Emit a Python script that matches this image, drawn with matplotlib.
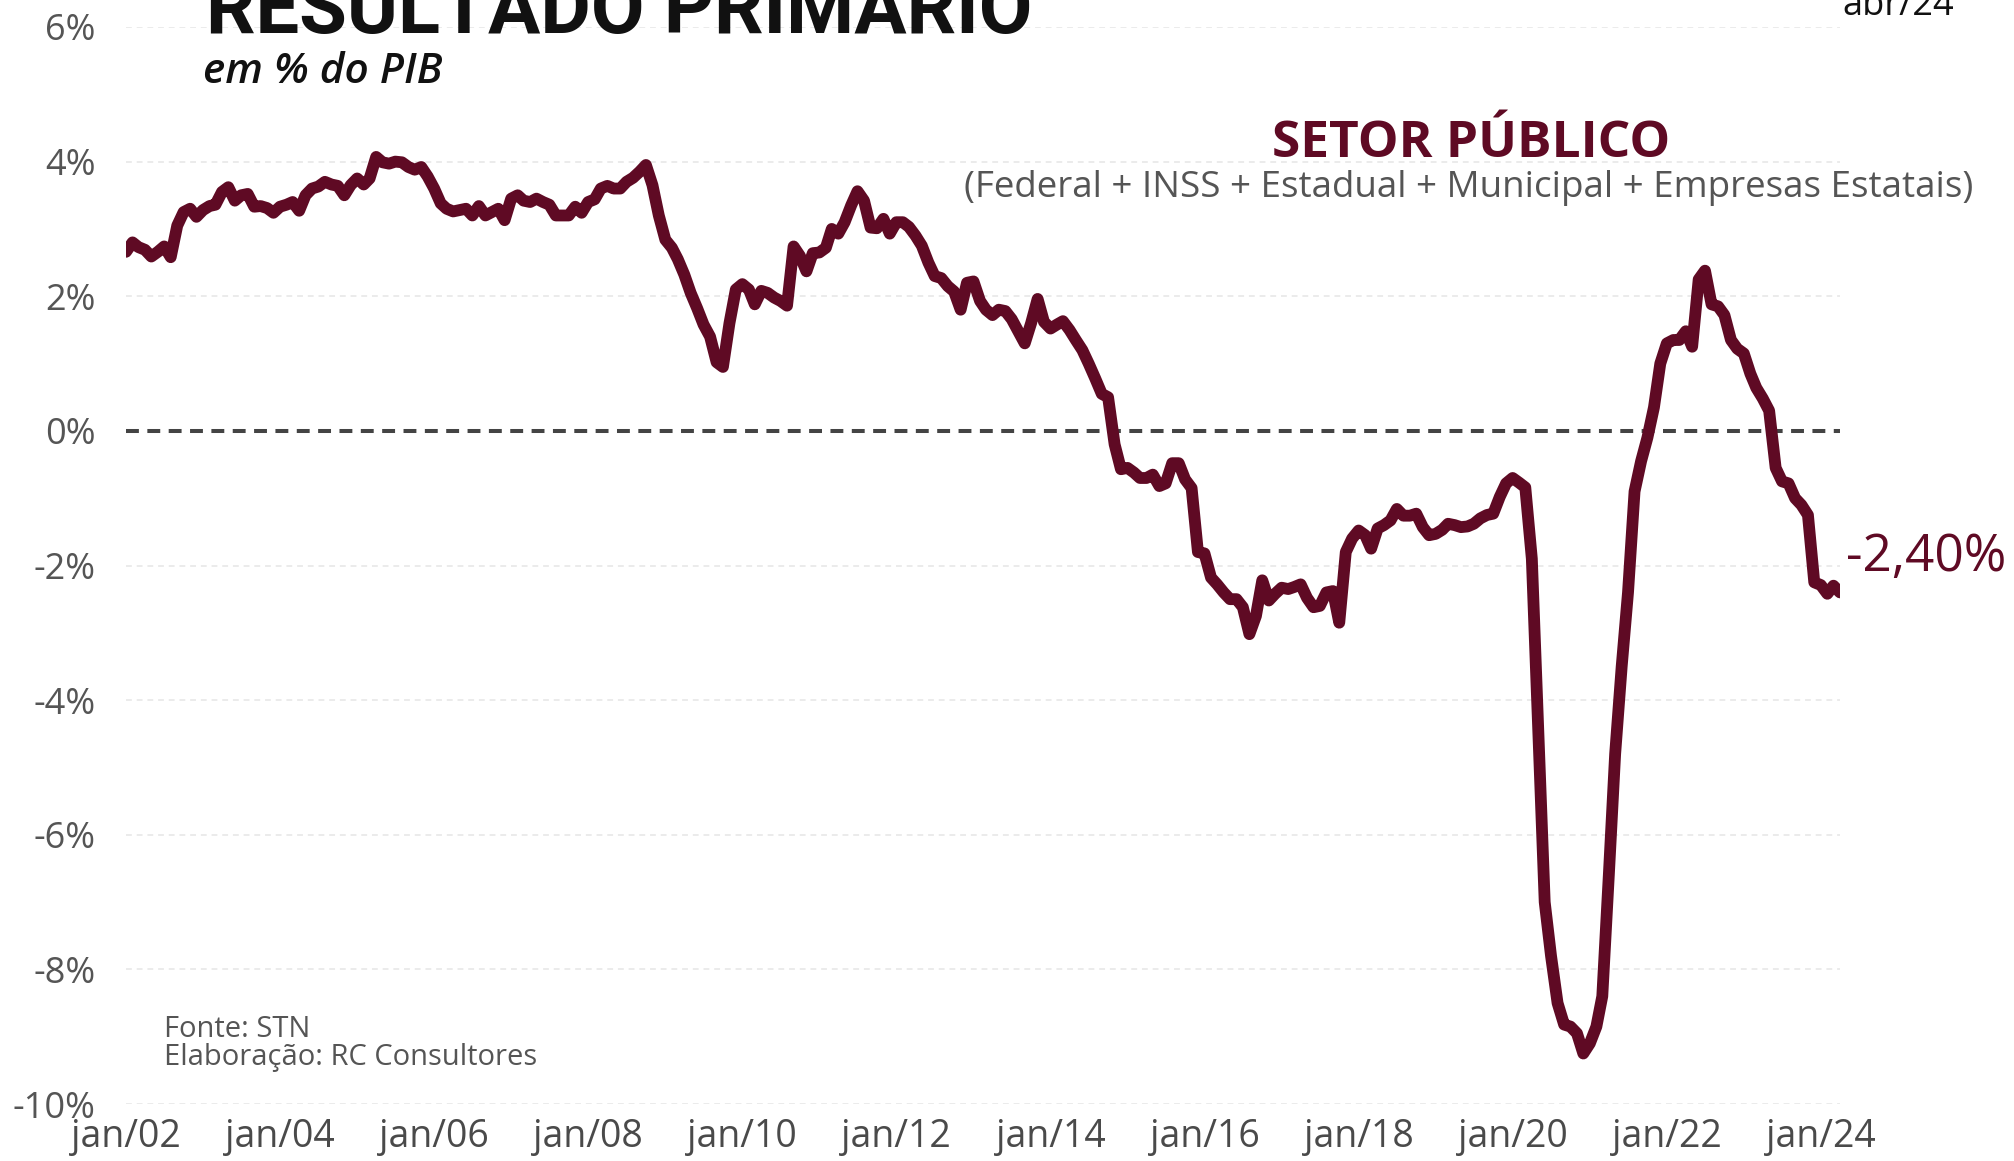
import numpy as np
import pandas as pd
import matplotlib
matplotlib.use('Agg')
import matplotlib.pyplot as plt
import matplotlib.dates as mdates

# resultado primario do setor publico, acumulado 12m, % do PIB (jan/02 - abr/24)
y2002 = [2.66, 2.80, 2.73, 2.69, 2.59, 2.66, 2.74, 2.58, 3.05, 3.25, 3.30, 3.18]
y2003 = [3.28, 3.34, 3.36, 3.55, 3.62, 3.42, 3.50, 3.52, 3.33, 3.34, 3.31, 3.24]
y2004 = [3.33, 3.36, 3.40, 3.27, 3.50, 3.60, 3.63, 3.70, 3.66, 3.64, 3.50, 3.65]
y2005 = [3.75, 3.66, 3.75, 4.07, 3.99, 3.97, 4.00, 3.99, 3.92, 3.88, 3.92, 3.78]
y2006 = [3.60, 3.38, 3.30, 3.26, 3.28, 3.30, 3.20, 3.34, 3.20, 3.25, 3.30, 3.13]
y2007 = [3.45, 3.50, 3.42, 3.40, 3.45, 3.40, 3.36, 3.20, 3.20, 3.20, 3.33, 3.24]
y2008 = [3.40, 3.44, 3.60, 3.64, 3.60, 3.60, 3.70, 3.76, 3.85, 3.95, 3.65, 3.20]
y2009 = [2.84, 2.72, 2.55, 2.32, 2.05, 1.82, 1.58, 1.40, 1.02, 0.95, 1.60, 2.10]
y2010 = [2.18, 2.10, 1.88, 2.08, 2.05, 1.98, 1.93, 1.86, 2.74, 2.60, 2.37, 2.64]
y2011 = [2.65, 2.72, 3.00, 2.93, 3.10, 3.35, 3.56, 3.42, 3.02, 3.01, 3.15, 2.93]
y2012 = [3.10, 3.10, 3.03, 2.90, 2.75, 2.50, 2.30, 2.27, 2.15, 2.07, 1.80, 2.20]
y2013 = [2.22, 1.93, 1.80, 1.72, 1.80, 1.78, 1.66, 1.48, 1.30, 1.60, 1.96, 1.62]
y2014 = [1.52, 1.58, 1.63, 1.50, 1.35, 1.20, 1.00, 0.78, 0.55, 0.50, -0.20, -0.57]
y2015 = [-0.55, -0.62, -0.70, -0.70, -0.65, -0.82, -0.78, -0.48, -0.48, -0.72, -0.85, -1.80]
y2016 = [-1.82, -2.18, -2.28, -2.40, -2.50, -2.50, -2.62, -3.02, -2.75, -2.22, -2.52, -2.42]
y2017 = [-2.33, -2.35, -2.32, -2.28, -2.48, -2.62, -2.60, -2.40, -2.38, -2.85, -1.80, -1.60]
y2018 = [-1.48, -1.55, -1.75, -1.45, -1.40, -1.33, -1.16, -1.26, -1.26, -1.23, -1.43, -1.55]
y2019 = [-1.53, -1.47, -1.38, -1.40, -1.43, -1.42, -1.38, -1.30, -1.25, -1.23, -0.98, -0.78]
y2020 = [-0.70, -0.77, -0.84, -1.90, -4.40, -7.00, -7.80, -8.50, -8.82, -8.85, -8.95, -9.25]
y2021 = [-9.10, -8.85, -8.40, -6.60, -4.80, -3.50, -2.40, -0.90, -0.45, -0.10, 0.35, 1.00]
y2022 = [1.30, 1.35, 1.35, 1.48, 1.25, 2.25, 2.38, 1.88, 1.85, 1.72, 1.35, 1.22]
y2023 = [1.15, 0.85, 0.64, 0.48, 0.30, -0.55, -0.75, -0.78, -1.00, -1.10, -1.25, -2.25]
y2024 = [-2.29, -2.42, -2.30, -2.40]

valores = (y2002 + y2003 + y2004 + y2005 + y2006 + y2007 + y2008 + y2009 + y2010 + y2011
           + y2012 + y2013 + y2014 + y2015 + y2016 + y2017 + y2018 + y2019 + y2020
           + y2021 + y2022 + y2023 + y2024)
datas = pd.date_range('2002-01-01', periods=len(valores), freq='MS')

yticks = [-10, -8, -6, -4, -2, 0, 2, 4, 6]
ytick_labels = ['-10%', '-8%', '-6%', '-4%', '-2%', '0%', '2%', '4%', '6%']
xtick_anos = list(range(2002, 2025, 2))
xtick_labels = ['jan/%02d' % (a % 100) for a in xtick_anos]

vinho = '#5f0a24'
cinza = '#555555'
W, H = 2015, 1161

plt.rcParams['font.family'] = ['Open Sans', 'DejaVu Sans']
fig = plt.figure(figsize=(W / 100, H / 100), dpi=100)
ax = fig.add_axes([126 / W, 1 - 1104 / H, (1840 - 126) / W, (1104 - 27) / H])

# grade
for v in yticks:
    if v != 0:
        ax.axhline(v, color='#ebebeb', lw=1.4, ls=(0, (3, 2.5)), zorder=0)
ax.axhline(0, color='#444444', lw=2.9, ls=(0, (3.2, 2.1)), zorder=1)

ax.plot(datas, valores, color=vinho, lw=8.5, solid_capstyle='round',
        solid_joinstyle='round', zorder=3)

ax.set_ylim(-10, 6)
ax.set_xlim(datas[0], datas[-1])
ax.set_yticks(yticks)
ax.set_yticklabels(ytick_labels)
ax.set_xticks([pd.Timestamp('%d-01-01' % a) for a in xtick_anos])
ax.set_xticklabels(xtick_labels)
ax.tick_params(axis='y', length=0, pad=22, labelsize=26, labelcolor=cinza)
ax.tick_params(axis='x', length=0, pad=10, labelsize=27, labelcolor='#4a4a4a')
for s in ax.spines.values():
    s.set_visible(False)

# ultimo valor
ax.annotate('-2,40%', xy=(datas[-1], valores[-1]), xytext=(4, 25),
            textcoords='offset points', ha='left', va='center',
            fontsize=37, color=vinho)

# textos
fig.text(206 / W, 1 - 33 / H, 'RESULTADO PRIMÁRIO', fontsize=56, fontweight='bold',
         family=['Liberation Sans Narrow', 'Roboto', 'DejaVu Sans'],
         color='#111111', va='baseline', ha='left')
fig.text(203 / W, 1 - 83 / H, 'em % do PIB', fontsize=30.5, style='italic',
         fontweight='semibold', color='#111111', va='baseline', ha='left')
fig.text(1842 / W, 1 - 15 / H, 'abr/24', fontsize=26, color='#111111',
         va='baseline', ha='left')
fig.text(1471 / W, 1 - 157 / H, 'SETOR PÚBLICO', fontsize=37, fontweight='bold',
         color=vinho, va='baseline', ha='center')
fig.text(1469 / W, 1 - 197 / H,
         '(Federal + INSS + Estadual + Municipal + Empresas Estatais)',
         fontsize=26.5, color=cinza, va='baseline', ha='center')
fig.text(164 / W, 1 - 1037 / H, 'Fonte: STN', fontsize=21, color=cinza,
         va='baseline', ha='left')
fig.text(164 / W, 1 - 1065 / H, 'Elaboração: RC Consultores', fontsize=21,
         color=cinza, va='baseline', ha='left')

fig.savefig('out.png', dpi=100, facecolor='white')
